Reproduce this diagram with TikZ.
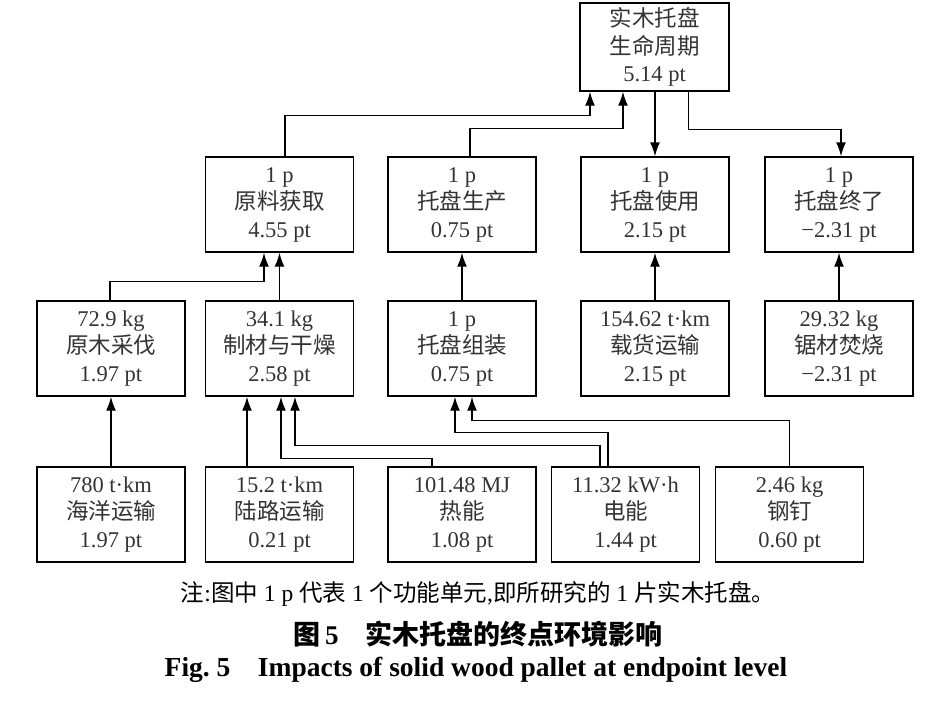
\documentclass[tikz,border=0pt]{standalone}
\usepackage{fontspec}
\setmainfont{Liberation Serif}
\newfontfamily\cjk{Noto Sans CJK SC}
\usetikzlibrary{arrows.meta}
\begin{document}
\begin{tikzpicture}[x=1pt,y=-1pt,
  box/.style={draw, line width=1.4pt, minimum width=148pt, minimum height=95pt,
    inner sep=0pt, align=center, font=\fontsize{22.5}{27.5}\selectfont, text=black!80},
  arr/.style={line width=1.4pt, -{Latex[length=14pt,width=10pt]}},
  captext/.style={inner sep=0pt, anchor=center}]
\useasboundingbox (0,0) rectangle (940,702);
% top
\node[box, minimum width=149pt, minimum height=88pt] (top) at (654.5,47) {{\cjk 实木托盘}\\{\cjk 生命周期}\\5.14 pt};
% row 2
\node[box] (yl) at (279.5,204.5) {1 p\\{\cjk 原料获取}\\4.55 pt};
\node[box] (sc) at (462,204.5) {1 p\\{\cjk 托盘生产}\\0.75 pt};
\node[box] (sy) at (655,204.5) {1 p\\{\cjk 托盘使用}\\2.15 pt};
\node[box] (zl) at (839,204.5) {1 p\\{\cjk 托盘终了}\\−2.31 pt};
% row 3
\node[box] (ym) at (111,348.5) {72.9 kg\\{\cjk 原木采伐}\\1.97 pt};
\node[box] (zc) at (279.5,348.5) {34.1 kg\\{\cjk 制材与干燥}\\2.58 pt};
\node[box] (zz) at (462,348.5) {1 p\\{\cjk 托盘组装}\\0.75 pt};
\node[box] (zh) at (655,348.5) {154.62 t·km\\{\cjk 载货运输}\\2.15 pt};
\node[box] (jc) at (839,348.5) {29.32 kg\\{\cjk 锯材焚烧}\\−2.31 pt};
% row 4
\node[box] (hy) at (111,514.5) {780 t·km\\{\cjk 海洋运输}\\1.97 pt};
\node[box] (ll) at (279.5,514.5) {15.2 t·km\\{\cjk 陆路运输}\\0.21 pt};
\node[box] (rn) at (462,514.5) {101.48 MJ\\{\cjk 热能}\\1.08 pt};
\node[box] (dn) at (625.5,514.5) {11.32 kW·h\\{\cjk 电能}\\1.44 pt};
\node[box] (gd) at (789.5,514.5) {2.46 kg\\{\cjk 钢钉}\\0.60 pt};
% connectors to top
\draw[arr] ([xshift=5.5pt]yl.north) -- ++(0,-41) -| ([xshift=-64.5pt]top.south);
\draw[arr] ([xshift=8pt]sc.north) -- ++(0,-28) -| ([xshift=-31.5pt]top.south);
\draw[arr] (top.south -| sy.north) -- (sy.north);
\draw[arr] ([xshift=34pt]top.south) -- ++(0,38) -| ([xshift=2pt]zl.north);
% row 3 -> row 2
\draw[arr] ([xshift=-1pt]ym.north) -- ++(0,-19) -| ([xshift=-15.5pt]yl.south);
\draw[arr] (zc.north) -- (yl.south);
\draw[arr] (zz.north) -- (sc.south);
\draw[arr] (zh.north) -- (sy.south);
\draw[arr] (jc.north) -- (zl.south);
% row 4 -> row 3
\draw[arr] (hy.north) -- (ym.south);
\draw[arr] ([xshift=-32.5pt]ll.north) -- ([xshift=-32.5pt]zc.south);
\draw[arr] ([xshift=-30pt]rn.north) -- ++(0,-8) -| ([xshift=1.5pt]zc.south);
\draw[arr] ([xshift=-25.5pt]dn.north) -- ++(0,-21) -| ([xshift=15.5pt]zc.south);
\draw[arr] ([xshift=-17.5pt]dn.north) -- ++(0,-34) -| ([xshift=-7pt]zz.south);
\draw[arr] (gd.north) -- ++(0,-46) -| ([xshift=10pt]zz.south);
% captions
\node[captext, font=\fontsize{23.5}{26}\selectfont] (note) at (478,594) {{\cjk 注}:{\cjk 图中} 1 p {\cjk 代表} 1 {\cjk 个功能单元},{\cjk 即所研究的} 1 {\cjk 片实木托盘。}};
\node[captext, font=\fontsize{27}{30}\selectfont\bfseries] (title) at (478,634) {{\cjk\bfseries 图}\,5\hspace{1em}{\cjk\bfseries 实木托盘的终点环境影响}};
\node[captext, font=\fontsize{27.5}{30}\selectfont\bfseries] (fig) at (476,670) {Fig.\ 5\hspace{1em}Impacts of solid wood pallet at endpoint level};
\end{tikzpicture}
\end{document}
